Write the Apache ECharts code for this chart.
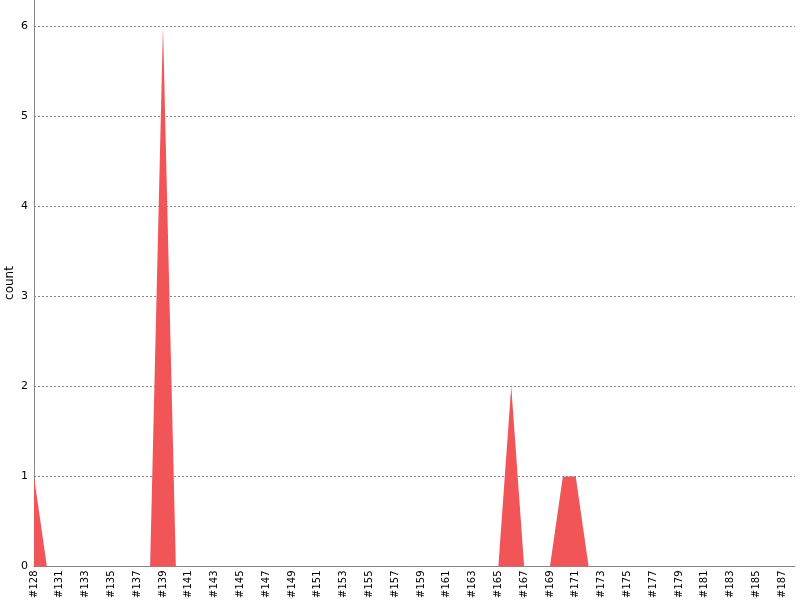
<!DOCTYPE html>
<html>
<head>
<meta charset="utf-8">
<script src="https://cdn.jsdelivr.net/npm/echarts@6/dist/echarts.min.js"></script>
<style>html,body{margin:0;padding:0;background:#fff;}#c{width:800px;height:600px;}</style>
</head>
<body>
<div id="c"></div>
<script>
var categories = ['#128','#130','#131','#132','#133','#134','#135','#136','#137','#138','#139','#140','#141','#142','#143','#144','#145','#146','#147','#148','#149','#150','#151','#152','#153','#154','#155','#156','#157','#158','#159','#160','#161','#162','#163','#164','#165','#166','#167','#168','#169','#170','#171','#172','#173','#174','#175','#176','#177','#178','#179','#180','#181','#182','#183','#184','#185','#186','#187','#188'];
var counts = [1,0,0,0,0,0,0,0,0,0,6,0,0,0,0,0,0,0,0,0,0,0,0,0,0,0,0,0,0,0,0,0,0,0,0,0,0,2,0,0,0,1,1,0,0,0,0,0,0,0,0,0,0,0,0,0,0,0,0,0];
var yTicks = [0,1,2,3,4,5,6];
var yAxisTitle = 'count';

var chart = echarts.init(document.getElementById('c'), null, {renderer:'canvas'});
chart.setOption({
  animation: false,
  textStyle: {fontFamily: 'DejaVu Sans'},
  grid: {left: 34, right: 5, top: 0, bottom: 33.5, containLabel: false, outerBoundsMode: 'none'},
  graphic: [{
    type: 'text',
    x: 10,
    y: 283,
    rotation: Math.PI / 2,
    style: {text: yAxisTitle, fill: '#000', font: '12px "DejaVu Sans"', textAlign: 'center', textVerticalAlign: 'middle'}
  }],
  xAxis: {
    type: 'category',
    data: categories,
    boundaryGap: false,
    axisLine: {lineStyle: {color: '#888', width: 1}},
    axisTick: {show: false},
    axisLabel: {interval: 1, rotate: 90, color: '#000', fontSize: 10, margin: 4, fontFamily: 'DejaVu Sans'},
    splitLine: {show: false}
  },
  yAxis: {
    type: 'value',
    min: yTicks[0],
    max: 6.29,
    interval: 1,
    axisLine: {show: true, lineStyle: {color: '#888', width: 1}},
    axisTick: {show: false},
    axisLabel: {color: '#000', fontSize: 11, margin: 6, showMaxLabel: false, fontFamily: 'DejaVu Sans'},
    splitLine: {show: true, showMaxLine: false, showMinLine: false, lineStyle: {color: '#888', type: [2, 2], width: 1}}
  },
  series: [{
    type: 'line',
    data: counts,
    showSymbol: false,
    symbol: 'none',
    lineStyle: {width: 0},
    areaStyle: {color: '#f25558', opacity: 1}
  }]
});
</script>
</body>
</html>
